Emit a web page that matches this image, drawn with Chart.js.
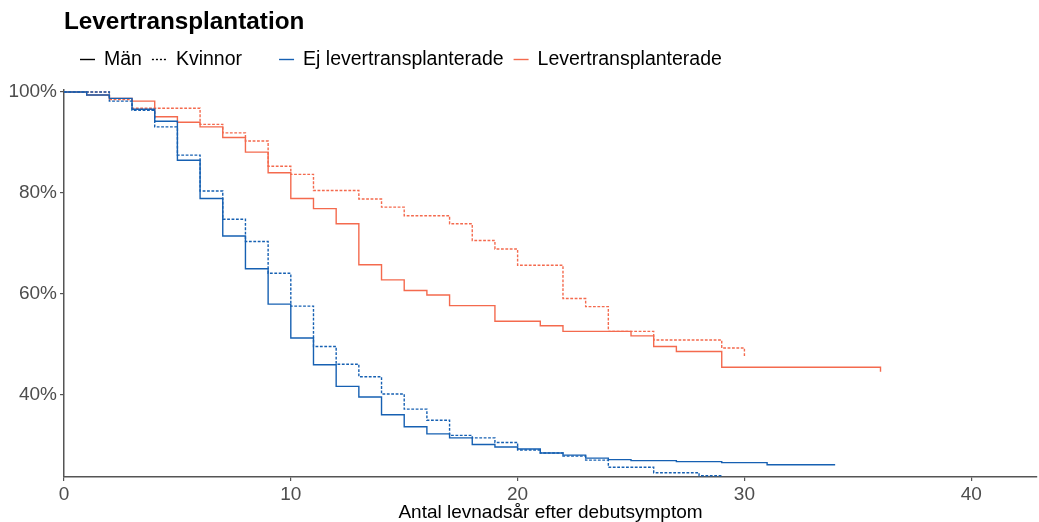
<!DOCTYPE html>
<html><head><meta charset="utf-8">
<script src="https://cdn.jsdelivr.net/npm/chart.js@4.4.1/dist/chart.umd.min.js"></script>
<style>html,body{margin:0;padding:0;background:#fff;}#wrap{width:1039px;height:522px;}</style>
</head><body><div id="wrap"><canvas id="c" width="1039" height="522"></canvas></div>
<script>
const titleText = 'Levertransplantation';
const xTitle = 'Antal levnadsår efter debutsymptom';
const xTicks = [0, 10, 20, 30, 40];
const yTicks = [40, 60, 80, 100];
const sexLabels = ['Män', 'Kvinnor'];
const groupLabels = ['Ej levertransplanterade', 'Levertransplanterade'];

// Män, ej levertransplanterade
const menNoTxTime = [0,1,2,3,4,5,6,7,8,9,10,11,12,13,14,15,16,17,18,19,20,21,22,23,24,25,27,29,31,34];
const menNoTxSurv = [100,99.4,98.75,96.6,94.2,86.5,78.9,71.5,65.0,58.0,51.3,46.0,41.7,39.6,36.1,33.7,32.3,31.5,30.2,29.7,29.3,28.5,28.1,27.5,27.2,27.0,26.8,26.6,26.2,26.2];
// Kvinnor, ej levertransplanterade
const womenNoTxTime = [0,2,3,4,5,6,7,8,9,10,11,12,13,14,15,16,17,18,19,20,21,22,23,24,26,28,29];
const womenNoTxSurv = [100,98.2,96.4,93.1,87.5,80.4,74.8,70.4,64.1,57.6,49.6,46.1,43.6,40.2,37.2,35.0,32.0,31.5,30.6,29.1,28.5,27.9,27.1,25.7,24.6,24.0,24.0];
// Män, levertransplanterade
const menTxTime = [0,1,2,3,4,5,6,7,8,9,10,11,12,13,14,15,16,17,19,21,22,25,26,27,29,36];
const menTxSurv = [100,99.4,98.75,98.2,95.1,94.0,93.1,91.0,88.1,84.0,78.9,76.9,73.9,65.8,62.8,60.7,59.8,57.7,54.6,53.7,52.6,51.7,49.6,48.6,45.5,44.6];
// Kvinnor, levertransplanterade
const womenTxTime = [0,2,3,6,7,8,9,10,11,13,14,15,17,18,19,20,22,23,24,26,29,30];
const womenTxSurv = [100,98.5,96.8,93.6,91.9,90.3,85.3,83.7,80.5,78.8,77.2,75.5,73.9,70.6,68.9,65.7,59.1,57.5,52.6,50.9,49.3,47.7];

const BLUE = '#1660b2';
const ORANGE = '#f46a4e';
const DOT = [2.8, 1.6];
const FONT = '"Liberation Sans", Arial, Helvetica, sans-serif';

function pts(t, s) { return t.map((v, i) => ({ x: v, y: s[i] })); }
function ds(label, t, s, color, dash) {
  return { label, data: pts(t, s), borderColor: color, backgroundColor: color, borderWidth: 1.4,
    borderDash: dash, stepped: 'before', pointRadius: 0, pointHoverRadius: 0, fill: false, tension: 0 };
}

const legendItems = [
  { text: sexLabels[0], color: '#000', dash: [] },
  { text: sexLabels[1], color: '#000', dash: [2, 2] },
  { gap: 27 },
  { text: groupLabels[0], color: BLUE, dash: [] },
  { text: groupLabels[1], color: ORANGE, dash: [] }
];

const header = {
  id: 'header',
  afterDraw(chart) {
    const ctx = chart.ctx, left = chart.chartArea.left;
    ctx.save();
    ctx.fillStyle = '#000';
    ctx.textAlign = 'left';
    ctx.textBaseline = 'alphabetic';
    ctx.font = 'bold 24.3px ' + FONT;
    ctx.fillText(titleText, left, 29);
    ctx.font = '19.5px ' + FONT;
    ctx.textBaseline = 'middle';
    const y = 59;
    let x = left + 16;
    legendItems.forEach(it => {
      if (it.gap) { x += it.gap; return; }
      ctx.strokeStyle = it.color;
      ctx.lineWidth = 1.4;
      ctx.setLineDash(it.dash);
      ctx.beginPath(); ctx.moveTo(x, y + 0.5); ctx.lineTo(x + 15, y + 0.5); ctx.stroke();
      ctx.setLineDash([]);
      ctx.fillStyle = '#000';
      ctx.fillText(it.text, x + 24, y + 1);
      x += 24 + ctx.measureText(it.text).width + 10;
    });
    ctx.restore();
  }
};

new Chart(document.getElementById('c'), {
  type: 'line',
  data: {
    datasets: [
      ds(sexLabels[0] + ', ' + groupLabels[0], menNoTxTime, menNoTxSurv, BLUE, []),
      ds(sexLabels[1] + ', ' + groupLabels[0], womenNoTxTime, womenNoTxSurv, BLUE, DOT),
      ds(sexLabels[0] + ', ' + groupLabels[1], menTxTime, menTxSurv, ORANGE, []),
      ds(sexLabels[1] + ', ' + groupLabels[1], womenTxTime, womenTxSurv, ORANGE, DOT)
    ]
  },
  plugins: [header],
  options: {
    responsive: false,
    animation: false,
    devicePixelRatio: 1,
    layout: { padding: { top: 90, right: 2, left: 0, bottom: 0 } },
    plugins: { legend: { display: false }, title: { display: false }, tooltip: { enabled: false } },
    scales: {
      x: {
        type: 'linear', min: 0, max: 42.9,
        afterBuildTicks: s => { s.ticks = xTicks.map(v => ({ value: v })); },
        afterFit: s => { s.height = 45; },
        border: { display: true, color: '#555', width: 1.5 },
        grid: { display: true, drawOnChartArea: false, drawTicks: true, tickLength: 4, color: '#555', lineWidth: 1.2 },
        ticks: { color: '#4d4d4d', font: { family: FONT, size: 19 }, padding: 2, maxRotation: 0, autoSkip: false },
        title: { display: true, text: xTitle, color: '#000', font: { family: FONT, size: 19, lineHeight: 1 }, padding: { top: 0, bottom: 0 } }
      },
      y: {
        type: 'linear', min: 23.76, max: 100.4,
        afterBuildTicks: s => { s.ticks = yTicks.map(v => ({ value: v })); },
        afterFit: s => { s.width = 64; },
        border: { display: true, color: '#555', width: 1.5 },
        grid: { display: true, drawOnChartArea: false, drawTicks: true, tickLength: 4, color: '#555', lineWidth: 1.2 },
        ticks: { color: '#4d4d4d', font: { family: FONT, size: 19 }, padding: 3, callback: v => v + '%' }
      }
    }
  }
});
</script></body></html>
